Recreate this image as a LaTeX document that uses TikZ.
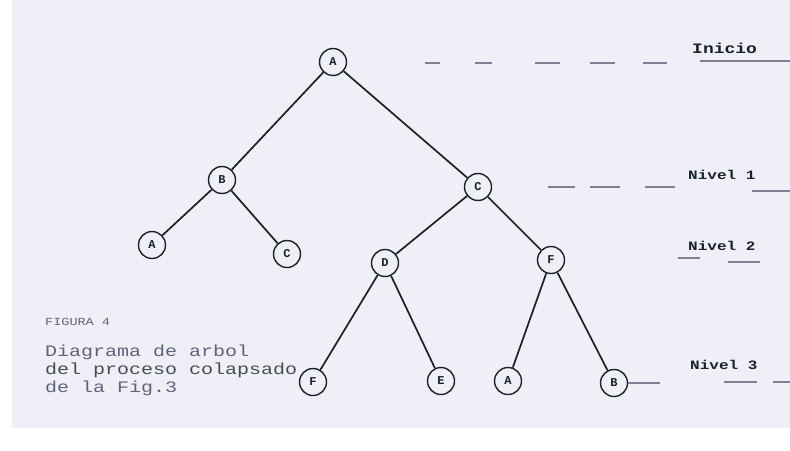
\documentclass[tikz,border=0pt]{standalone}
\usepackage{fontspec}
\usepackage{graphicx}
\setmonofont{Liberation Mono}
\definecolor{paper}{RGB}{240,239,248}
\definecolor{ink}{RGB}{22,34,44}
\definecolor{faint}{RGB}{125,128,150}
\definecolor{cap}{RGB}{95,100,125}
\newcommand{\squash}[1]{\scalebox{1}[0.8]{#1}}
\begin{document}
\begin{tikzpicture}[x=1pt,y=-1pt,
  tnode/.style={circle,draw=ink,line width=1.4pt,minimum size=27pt,inner sep=0pt,font=\ttfamily\bfseries\fontsize{12}{12}\selectfont,text=ink},
  edge/.style={draw=ink,line width=1.7pt},
  lvl/.style={draw=faint,line width=1.6pt},
  lbl/.style={font=\ttfamily\bfseries\fontsize{16}{16}\selectfont,text=ink,anchor=west,inner sep=0pt},
  captxt/.style={font=\ttfamily\fontsize{20}{20}\selectfont,text=cap,anchor=west,inner sep=0pt}]
\useasboundingbox (0,0) rectangle (790,450);
\fill[white] (0,0) rectangle (790,450);
\fill[paper] (12,0) rectangle (790,428);
% tree nodes
\node[tnode] (r) at (333,62) {A};
\node[tnode] (b) at (222,180) {B};
\node[tnode] (c) at (478,187) {C};
\node[tnode] (ba) at (152,245) {A};
\node[tnode] (bc) at (287,254) {C};
\node[tnode] (cd) at (385,263) {D};
\node[tnode] (cf) at (551,260) {F};
\node[tnode] (df) at (313,382) {F};
\node[tnode] (de) at (441,381) {E};
\node[tnode] (fa) at (508,381) {A};
\node[tnode] (fb) at (614,383) {B};
% edges
\draw[edge] (r) -- (b);
\draw[edge] (r) -- (c);
\draw[edge] (b) -- (ba);
\draw[edge] (b) -- (bc);
\draw[edge] (c) -- (cd);
\draw[edge] (c) -- (cf);
\draw[edge] (cd) -- (df);
\draw[edge] (cd) -- (de);
\draw[edge] (cf) -- (fa);
\draw[edge] (cf) -- (fb);
% level labels
\node[lbl,font=\ttfamily\bfseries\fontsize{18}{18}\selectfont] (l0) at (692,48) {\squash{Inicio}};
\node[lbl] (l1) at (688,175) {\squash{Nivel 1}};
\node[lbl] (l2) at (688,246) {\squash{Nivel 2}};
\node[lbl] (l3) at (690,365) {\squash{Nivel 3}};
% dashes for levels
\foreach \a/\b in {425/440,475/492,535/560,590/615,643/667} \draw[lvl] (\a,63) -- (\b,63);
\draw[lvl] (700,61) -- (790,61);
\foreach \a/\b in {548/575,590/620,645/675} \draw[lvl] (\a,187) -- (\b,187);
\draw[lvl] (752,191) -- (790,191);
\draw[lvl] (678,258) -- (700,258);
\draw[lvl] (728,262) -- (760,262);
\coordinate (l3s) at (660,383);
\draw[lvl] (fb) -- (l3s);
\draw[lvl] (724,382) -- (757,382);
\draw[lvl] (773,382) -- (790,382);
% caption
\node[captxt,font=\ttfamily\fontsize{13.5}{13.5}\selectfont] (cap0) at (45,322) {\squash{FIGURA 4}};
\node[captxt] (cap1) at (45,352) {\squash{Diagrama de arbol}};
\node[captxt,text=ink!80] (cap2) at (45,370) {\squash{del proceso colapsado}};
\node[captxt] (cap3) at (45,388) {\squash{de la Fig.3}};
\end{tikzpicture}
\end{document}
